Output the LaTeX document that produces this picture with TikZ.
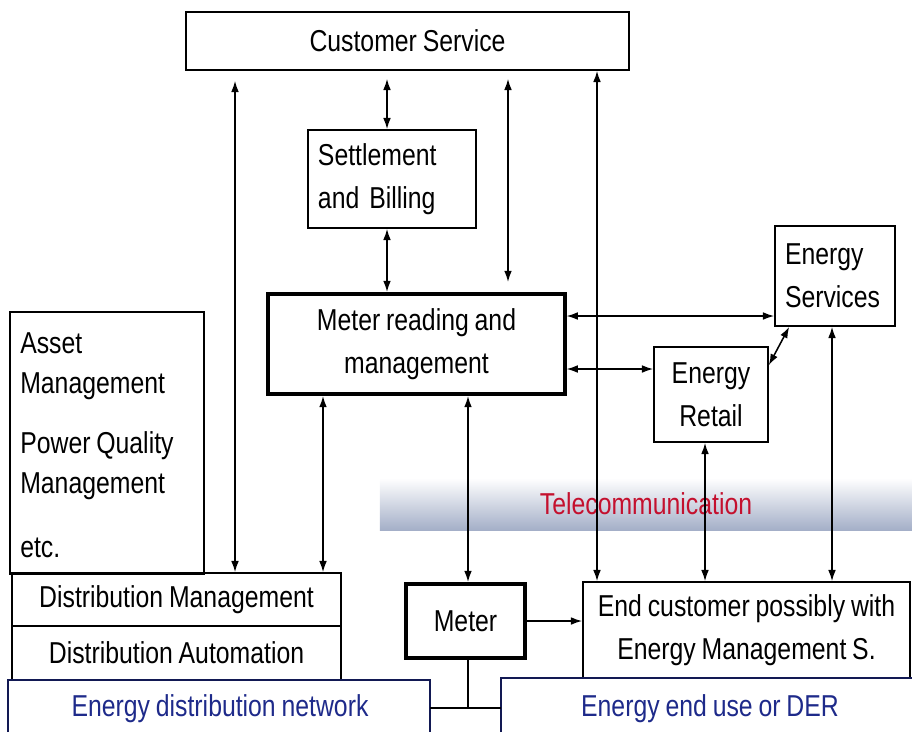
\documentclass[tikz,border=0pt]{standalone}
\usepackage{fontspec}
\setmainfont{Liberation Sans}[FakeStretch=0.82, WordSpace=0.85]
\usetikzlibrary{positioning, calc, arrows.meta}
\definecolor{mtBlue}{HTML}{1E2A8A}
\definecolor{mtRed}{HTML}{C4102E}
\definecolor{mtHaze}{HTML}{A4AFC8}

\begin{document}
\begin{tikzpicture}[x=0.025cm, y=-0.025cm,
    font=\fontsize{21.5pt}{30.5pt}\selectfont,
    block/.style={draw, line width=1.1pt, inner sep=0pt, align=center},
    heavy/.style={block, line width=2.8pt},
    link/.style={line width=1.1pt, {Latex[length=8pt,width=5.5pt]}-{Latex[length=8pt,width=5.5pt]}},
    feed/.style={line width=1.1pt, -{Latex[length=8pt,width=5.5pt]}}]

	\useasboundingbox (0,0) rectangle (912,732);

	% Telecommunication band behind the links
	\node[top color=white, bottom color=mtHaze, minimum width=13.3cm, minimum height=1.3cm,
	      inner sep=0pt, text=mtRed] (telecom) at (646,504) {Telecommunication};

	% Main blocks
	\node[block, minimum width=11.075cm, minimum height=1.45cm] (cs) at (407.5,41) {Customer Service};
	\node[block, minimum width=4.2cm, minimum height=2.45cm, text width=3.7cm, align=left]
	      (settle) at (392,179) {Settlement\\and Billing};
	\node[heavy, minimum width=7.4cm, minimum height=2.5cm] (mrm) at (416.5,344)
	      {Meter reading and\\management};
	\node[block, minimum width=3.0cm, minimum height=2.5cm, text width=2.5cm, align=left]
	      (services) at (835,276) {Energy\\Services};
	\node[block, minimum width=2.85cm, minimum height=2.375cm] (retail) at (711,394.5)
	      {Energy\\Retail};

	% Left column of grid applications
	\node[block, minimum width=4.85cm, minimum height=6.55cm] (other) at (107,443) {};
	\node[anchor=north west, inner sep=0pt, align=left, font=\fontsize{21.5pt}{28.5pt}\selectfont]
	      (othertext) at (20,332)
	      {Asset\\Management\\[0.5cm]Power Quality\\Management\\[0.6cm]etc.};
	\node[block, minimum width=8.225cm, minimum height=1.325cm] (dm) at (176.5,599.5)
	      {Distribution Management};
	\node[block, minimum width=8.225cm, minimum height=1.35cm] (da) at (176.5,653)
	      {Distribution Automation};

	% Meter and customer side
	\node[heavy, minimum width=2.975cm, minimum height=1.85cm] (meter) at (465.5,621) {Meter};
	\node[block, minimum width=8.175cm, minimum height=2.4cm] (end) at (746.5,630)
	      {End customer possibly with\\Energy Management S.};

	% Physical layer at the bottom
	\draw[mtBlue!60!black, line width=1.1pt] (8,732) |- (430,680) -- (430,732);
	\draw[mtBlue!60!black, line width=1.1pt] (501,732) |- (912,678);
	\node[text=mtBlue] (netlabel) at (220,709) {Energy distribution network};
	\node[text=mtBlue] (uselabel) at (710,709) {Energy end use or DER};

	% Columns and rows for the links
	\coordinate (colA) at (235,0);
	\coordinate (colB) at (323,0);
	\coordinate (colS) at (387,0);
	\coordinate (colM) at (468,0);
	\coordinate (colC) at (508,0);
	\coordinate (colD) at (597,0);
	\coordinate (colE) at (705,0);
	\coordinate (colF) at (832,0);
	\coordinate (rowA) at (0,316);
	\coordinate (rowB) at (0,369);
	\coordinate (netport) at (430,708);
	\coordinate (useport) at (501,708);

	% Vertical links
	\draw[link, shorten <=0.25cm] (cs.south -| colA) -- (dm.north -| colA);
	\draw[link, shorten <=0.2cm] (cs.south -| colS) -- (settle.north -| colS);
	\draw[link] (settle.south -| colS) -- (mrm.north -| colS);
	\draw[link, shorten <=0.2cm, shorten >=0.25cm] (cs.south -| colC) -- (mrm.north -| colC);
	\draw[link] (cs.south -| colD) -- (end.north -| colD);
	\draw[link] (mrm.south -| colB) -- (dm.north -| colB);
	\draw[link] (mrm.south -| colM) -- (meter.north -| colM);
	\draw[link] (retail.south -| colE) -- (end.north -| colE);
	\draw[link] (services.south -| colF) -- (end.north -| colF);

	% Horizontal links
	\draw[link] (mrm.east |- rowA) -- (services.west |- rowA);
	\draw[link] (mrm.east |- rowB) -- (retail.west |- rowB);
	\draw[link] ([yshift=-0.475cm]retail.north east) -- ([xshift=0.375cm]services.south west);
	\draw[feed] (meter.east) -- (end.west |- meter.east);

	% Meter tap onto both networks
	\draw[line width=1.1pt] (meter.south -| colM) -- (netport -| colM);
	\draw[line width=1.1pt] (netport) -- (useport);
\end{tikzpicture}
\end{document}
